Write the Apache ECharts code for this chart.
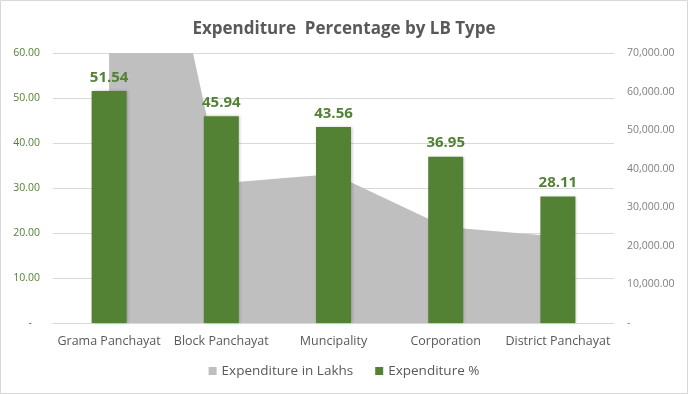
<!DOCTYPE html>
<html>
<head>
<meta charset="utf-8">
<script src="https://cdn.jsdelivr.net/npm/echarts@6/dist/echarts.min.js"></script>
<style>
html,body{margin:0;padding:0;background:#fff;}
#c{width:688px;height:394px;}
</style>
</head>
<body>
<div id="c"></div>
<script>
const categories = ['Grama Panchayat', 'Block Panchayat', 'Muncipality', 'Corporation', 'District Panchayat'];
const expenditureLakhs = [170000, 36250, 38630, 24890, 22450];
const expenditurePct = [51.54, 45.94, 43.56, 36.95, 28.11];
const leftTicks = {min: 0, max: 60, interval: 10};
const rightTicks = {min: 0, max: 70000, interval: 10000};

const FONT = '"Open Sans", "Noto Sans", sans-serif';
const chart = echarts.init(document.getElementById('c'), null, {renderer: 'canvas'});

function fmtRight(v) {
  if (v === 0) return '-';
  return v.toLocaleString('en-US', {minimumFractionDigits: 2, maximumFractionDigits: 2});
}
function fmtLeft(v) {
  if (v === 0) return '-   ';
  return v.toFixed(2);
}

chart.setOption({
  backgroundColor: '#ffffff',
  animation: false,
  textStyle: {fontFamily: FONT},
  title: {
    text: 'Expenditure  Percentage by LB Type',
    left: 'center',
    top: 16,
    textStyle: {fontFamily: FONT, fontSize: 17, fontWeight: 'bold', color: '#595959'}
  },
  graphic: [{
    type: 'rect',
    shape: {x: 0.5, y: 0.5, width: 687, height: 393},
    style: {fill: 'none', stroke: '#D9D9D9', lineWidth: 1},
    silent: true, z: 100
  }],
  legend: {
    bottom: 11,
    left: 'center',
    itemWidth: 8,
    itemHeight: 8,
    itemGap: 22,
    icon: 'rect',
    textStyle: {fontFamily: FONT, fontSize: 13.5, color: '#595959'},
    data: ['Expenditure in Lakhs', 'Expenditure %']
  },
  grid: {left: 53, right: 74, top: 53, bottom: 71, containLabel: false},
  xAxis: {
    type: 'category',
    data: categories,
    boundaryGap: true,
    axisLine: {lineStyle: {color: '#D9D9D9'}},
    axisTick: {show: false},
    axisLabel: {fontFamily: FONT, fontSize: 12.5, color: '#595959', margin: 12, interval: 0}
  },
  yAxis: [{
    type: 'value',
    min: leftTicks.min, max: leftTicks.max, interval: leftTicks.interval,
    axisLine: {show: false},
    axisTick: {show: false},
    splitLine: {lineStyle: {color: '#D9D9D9'}},
    axisLabel: {fontFamily: FONT, fontSize: 10.5, color: '#548235', margin: 13, formatter: fmtLeft}
  }, {
    type: 'value',
    min: rightTicks.min, max: rightTicks.max, interval: rightTicks.interval,
    position: 'right',
    axisLine: {show: false},
    axisTick: {show: false},
    splitLine: {show: false},
    axisLabel: {fontFamily: FONT, fontSize: 10.5, color: '#808080', margin: 13, formatter: fmtRight}
  }],
  series: [{
    name: 'Expenditure in Lakhs',
    type: 'line',
    yAxisIndex: 1,
    data: expenditureLakhs,
    symbol: 'none',
    clip: true,
    lineStyle: {width: 0, color: '#BFBFBF'},
    itemStyle: {color: '#BFBFBF'},
    areaStyle: {color: '#BFBFBF', opacity: 1},
    z: 1
  }, {
    name: 'Expenditure %',
    type: 'bar',
    yAxisIndex: 0,
    data: expenditurePct,
    barWidth: 35,
    itemStyle: {color: '#548235', shadowColor: 'rgba(0,0,0,0.25)', shadowBlur: 3, shadowOffsetX: 1, shadowOffsetY: 0},
    label: {
      show: true,
      position: 'top',
      distance: 6,
      fontFamily: FONT,
      fontSize: 15,
      fontWeight: 'bold',
      color: '#548235',
      formatter: p => p.value.toFixed(2)
    },
    z: 2
  }]
});
</script>
</body>
</html>
